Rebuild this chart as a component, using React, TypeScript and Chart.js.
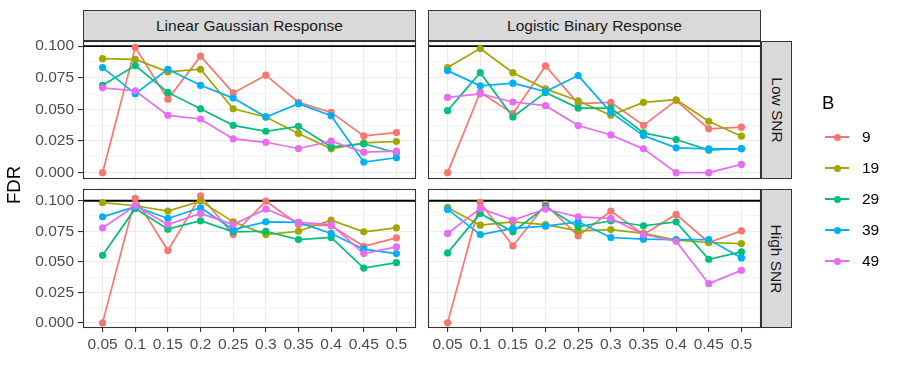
import React, { useEffect, useRef } from "react";
import { Chart, registerables } from "chart.js";

Chart.register(...registerables);

// ---- data ----
const xLabels = ["0.05", "0.1", "0.15", "0.2", "0.25", "0.3", "0.35", "0.4", "0.45", "0.5"];
const seriesNames = ["9", "19", "29", "39", "49"];
const seriesColors = ["#F8766D", "#A3A500", "#00BF7D", "#00B0F6", "#E76BF3"];
const yTickLabels = ["0.000", "0.025", "0.050", "0.075", "0.100"];

// Linear Gaussian Response, Low SNR
const lgLow9 = [0.0, 0.099, 0.058, 0.092, 0.063, 0.077, 0.0555, 0.0476, 0.029, 0.0317];
const lgLow19 = [0.090, 0.0895, 0.0796, 0.0817, 0.0505, 0.044, 0.031, 0.0188, 0.0236, 0.0246];
const lgLow29 = [0.069, 0.0846, 0.0634, 0.0505, 0.0374, 0.0327, 0.0366, 0.0204, 0.0228, 0.0157];
const lgLow39 = [0.083, 0.0623, 0.0817, 0.069, 0.0589, 0.044, 0.0545, 0.045, 0.0084, 0.0118];
const lgLow49 = [0.067, 0.0647, 0.0453, 0.0424, 0.0267, 0.024, 0.0191, 0.0249, 0.0162, 0.017];

// Logistic Binary Response, Low SNR
const lbLow9 = [0.0, 0.0635, 0.0466, 0.0843, 0.0545, 0.0555, 0.0374, 0.057, 0.0346, 0.0359];
const lbLow19 = [0.083, 0.098, 0.079, 0.0662, 0.0568, 0.0453, 0.0555, 0.0576, 0.0406, 0.0288];
const lbLow29 = [0.049, 0.079, 0.044, 0.0634, 0.051, 0.051, 0.0314, 0.0262, 0.0178, 0.0191];
const lbLow39 = [0.0806, 0.0686, 0.0707, 0.0641, 0.0767, 0.0476, 0.0293, 0.0196, 0.0188, 0.0188];
const lbLow49 = [0.0594, 0.0623, 0.0558, 0.0529, 0.0372, 0.0298, 0.0188, 0.0, 0.0, 0.0065];

// Linear Gaussian Response, High SNR
const lgHigh9 = [0.0, 0.102, 0.0592, 0.104, 0.0723, 0.0997, 0.0805, 0.0795, 0.0627, 0.0696];
const lgHigh19 = [0.0984, 0.0959, 0.0915, 0.0997, 0.0827, 0.0723, 0.075, 0.0841, 0.0745, 0.0778];
const lgHigh29 = [0.0553, 0.0937, 0.0767, 0.0836, 0.0745, 0.075, 0.0682, 0.0699, 0.0449, 0.0493];
const lgHigh39 = [0.0868, 0.0951, 0.0855, 0.0942, 0.0764, 0.0827, 0.0822, 0.0732, 0.0603, 0.0567];
const lgHigh49 = [0.0778, 0.0959, 0.0805, 0.0896, 0.0805, 0.0932, 0.0822, 0.0805, 0.0567, 0.0622];

// Logistic Binary Response, High SNR
const lbHigh9 = [0.0, 0.0986, 0.063, 0.097, 0.0712, 0.0915, 0.0723, 0.0888, 0.0658, 0.0753];
const lbHigh19 = [0.0945, 0.080, 0.0827, 0.0805, 0.0753, 0.0764, 0.0732, 0.0677, 0.0658, 0.0649];
const lbHigh29 = [0.0573, 0.0896, 0.0745, 0.0951, 0.0786, 0.0836, 0.0795, 0.0827, 0.0521, 0.0581];
const lbHigh39 = [0.0929, 0.0723, 0.0773, 0.0792, 0.0827, 0.0699, 0.0685, 0.0682, 0.0682, 0.0532];
const lbHigh49 = [0.0732, 0.0937, 0.0841, 0.0932, 0.0868, 0.0855, 0.0723, 0.0668, 0.0321, 0.043];

const refLine = 0.1;

const FONT = "'Liberation Sans', Arial, sans-serif";
const W = 900;
const H = 386;

type PanelSpec = {
  series: number[][];
  left: number;
  right: number;
  top: number;
  bottom: number;
  yMin: number;
  yMax: number;
  showY: boolean;
  showX: boolean;
};

const PANEL_L = { left: 83, right: 416 };
const PANEL_R = { left: 428, right: 761 };
const PANEL_T = { top: 41, bottom: 179 };
const PANEL_B = { top: 189, bottom: 328 };

const panels: PanelSpec[] = [
  { series: [lgLow9, lgLow19, lgLow29, lgLow39, lgLow49], ...PANEL_L, ...PANEL_T, yMin: -0.005, yMax: 0.104, showY: true, showX: false },
  { series: [lbLow9, lbLow19, lbLow29, lbLow39, lbLow49], ...PANEL_R, ...PANEL_T, yMin: -0.005, yMax: 0.104, showY: false, showX: false },
  { series: [lgHigh9, lgHigh19, lgHigh29, lgHigh39, lgHigh49], ...PANEL_L, ...PANEL_B, yMin: -0.0042, yMax: 0.1096, showY: true, showX: true },
  { series: [lbHigh9, lbHigh19, lbHigh29, lbHigh39, lbHigh49], ...PANEL_R, ...PANEL_B, yMin: -0.0042, yMax: 0.1096, showY: false, showX: true },
];

const yTicksAll = [0, 0.0125, 0.025, 0.0375, 0.05, 0.0625, 0.075, 0.0875, 0.1];

const panelPlugin = {
  id: "panelDeco",
  beforeDatasetsDraw(chart: any) {
    const { ctx, chartArea } = chart;
    const y = chart.scales.y.getPixelForValue(refLine);
    ctx.save();
    ctx.beginPath();
    ctx.rect(chartArea.left, chartArea.top, chartArea.right - chartArea.left, chartArea.bottom - chartArea.top);
    ctx.clip();
    ctx.strokeStyle = "#000000";
    ctx.lineWidth = 1.8;
    ctx.beginPath();
    ctx.moveTo(chartArea.left, y);
    ctx.lineTo(chartArea.right, y);
    ctx.stroke();
    ctx.restore();
  },
  afterDraw(chart: any) {
    const { ctx, chartArea } = chart;
    ctx.save();
    ctx.strokeStyle = "#333333";
    ctx.lineWidth = 1.1;
    ctx.strokeRect(
      Math.round(chartArea.left) + 0.5,
      Math.round(chartArea.top) + 0.5,
      Math.round(chartArea.right - chartArea.left) - 1,
      Math.round(chartArea.bottom - chartArea.top) - 1
    );
    ctx.restore();
  },
};

function Panel({ spec }: { spec: PanelSpec }) {
  const ref = useRef<HTMLCanvasElement>(null);
  useEffect(() => {
    if (!ref.current) return;
    const yAxisW = spec.showY ? spec.left : 0;
    const xAxisH = spec.showX ? 30 : 0;
    const lineSets = spec.series.map((vals, i) => ({
      type: "line" as const,
      label: seriesNames[i] + "-line",
      data: vals.map((v, j) => ({ x: j + 1, y: v })),
      borderColor: seriesColors[i],
      backgroundColor: seriesColors[i],
      borderWidth: 1.7,
      pointRadius: 0,
      tension: 0,
      order: 20 - i,
    }));
    const pointSets = spec.series.map((vals, i) => ({
      type: "line" as const,
      label: seriesNames[i],
      data: vals.map((v, j) => ({ x: j + 1, y: v })),
      borderColor: seriesColors[i],
      backgroundColor: seriesColors[i],
      showLine: false,
      pointRadius: 3.6,
      pointBorderWidth: 0,
      order: 10 - i,
    }));
    const chart = new Chart(ref.current, {
      type: "line",
      data: { datasets: [...lineSets, ...pointSets] as any },
      plugins: [panelPlugin],
      options: {
        animation: false,
        responsive: false,
        events: [],
        layout: {
          padding: {
            left: spec.left - yAxisW,
            top: spec.top,
            right: W - spec.right,
            bottom: H - spec.bottom - xAxisH,
          },
        },
        plugins: { legend: { display: false }, tooltip: { enabled: false } },
        scales: {
          x: {
            type: "linear",
            min: 0.4,
            max: 10.6,
            afterBuildTicks: (scale: any) => {
              scale.ticks = xLabels.map((_, i) => ({ value: i + 1 }));
            },
            afterFit: (scale: any) => {
              scale.height = xAxisH;
            },
            border: { display: false },
            grid: {
              color: "#EBEBEB",
              lineWidth: 1.1,
              drawTicks: spec.showX,
              tickLength: 4,
              tickColor: "#333333",
              tickWidth: 1.1,
            },
            ticks: {
              display: spec.showX,
              autoSkip: false,
              maxRotation: 0,
              minRotation: 0,
              padding: 3,
              color: "#4D4D4D",
              font: { family: FONT, size: 15.5 },
              callback: (v: any) => xLabels[Math.round(Number(v)) - 1] ?? "",
            },
          },
          y: {
            type: "linear",
            min: spec.yMin,
            max: spec.yMax,
            afterBuildTicks: (scale: any) => {
              scale.ticks = yTicksAll.map((v) => ({ value: v }));
            },
            afterFit: (scale: any) => {
              scale.width = yAxisW;
            },
            border: { display: false },
            grid: {
              color: (c: any) => (c.index % 2 === 0 ? "#EBEBEB" : "#F3F3F3"),
              lineWidth: (c: any) => (c.index % 2 === 0 ? 1.1 : 0.8),
              drawTicks: spec.showY,
              tickLength: 5,
              tickColor: (c: any) => (c.index % 2 === 0 ? "#333333" : "rgba(0,0,0,0)"),
              tickWidth: 1.1,
            },
            ticks: {
              display: spec.showY,
              autoSkip: false,
              padding: 4,
              color: "#4D4D4D",
              font: { family: FONT, size: 15.5 },
              callback: (_v: any, idx: number) => (idx % 2 === 0 ? yTickLabels[idx / 2] : ""),
            },
          },
        },
      } as any,
    });
    return () => chart.destroy();
  }, [spec]);
  return (
    <canvas
      ref={ref}
      width={W}
      height={H}
      style={{ position: "absolute", left: 0, top: 0, width: W, height: H }}
    />
  );
}

const stripStyle: React.CSSProperties = {
  position: "absolute",
  background: "#D9D9D9",
  border: "1px solid #333333",
  boxSizing: "border-box",
  display: "flex",
  alignItems: "center",
  justifyContent: "center",
  color: "#1A1A1A",
  fontFamily: FONT,
  fontSize: 15.5,
  whiteSpace: "nowrap",
};

const colStrips = ["Linear Gaussian Response", "Logistic Binary Response"];
const rowStrips = ["Low SNR", "High SNR"];

export default function App() {
  const cols = [PANEL_L, PANEL_R];
  const rows = [PANEL_T, PANEL_B];
  return (
    <div
      style={{
        position: "fixed",
        left: 0,
        top: 0,
        width: W,
        height: H,
        background: "#FFFFFF",
        overflow: "hidden",
      }}
    >
      {panels.map((p, i) => (
        <Panel key={i} spec={p} />
      ))}
      {cols.map((c, i) => (
        <div
          key={"c" + i}
          style={{ ...stripStyle, left: c.left, top: 10, width: c.right - c.left, height: 31 }}
        >
          {colStrips[i]}
        </div>
      ))}
      {rows.map((r, i) => (
        <div
          key={"r" + i}
          style={{ ...stripStyle, left: 761, top: r.top, width: 31, height: r.bottom - r.top }}
        >
          <span style={{ transform: "rotate(90deg)", display: "inline-block" }}>{rowStrips[i]}</span>
        </div>
      ))}
      <div
        style={{
          position: "absolute",
          left: 13.5,
          top: 185,
          transform: "translate(-50%, -50%) rotate(-90deg)",
          fontFamily: FONT,
          fontSize: 18.5,
          color: "#000000",
          whiteSpace: "nowrap",
        }}
      >
        FDR
      </div>
      <div
        style={{
          position: "absolute",
          left: 822,
          top: 92,
          fontFamily: FONT,
          fontSize: 18.5,
          color: "#000000",
        }}
      >
        B
      </div>
      {seriesNames.map((n, i) => (
        <div key={"l" + i} style={{ position: "absolute", left: 824, top: 137 + i * 31 - 10, height: 20, width: 70 }}>
          <div
            style={{
              position: "absolute",
              left: 1,
              top: 9,
              width: 24,
              height: 2,
              background: seriesColors[i],
            }}
          />
          <div
            style={{
              position: "absolute",
              left: 9.5,
              top: 6.5,
              width: 7,
              height: 7,
              borderRadius: "50%",
              background: seriesColors[i],
            }}
          />
          <div
            style={{
              position: "absolute",
              left: 38,
              top: 0,
              lineHeight: "20px",
              fontFamily: FONT,
              fontSize: 15.5,
              color: "#000000",
            }}
          >
            {n}
          </div>
        </div>
      ))}
    </div>
  );
}
